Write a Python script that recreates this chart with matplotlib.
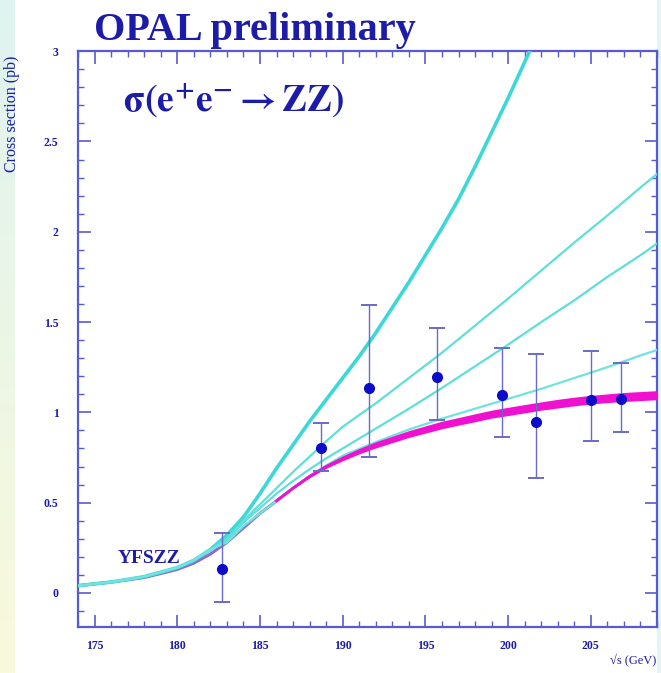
import numpy as np
import matplotlib
matplotlib.use("Agg")
import matplotlib.pyplot as plt
from matplotlib.ticker import MultipleLocator

plt.rcParams["mathtext.fontset"] = "stix"

ecm = [182.7, 188.7, 191.6, 195.7, 199.6, 201.7, 205.0, 206.8]
xsec = [0.13, 0.80, 1.135, 1.195, 1.095, 0.945, 1.07, 1.075]
err_up = [0.20, 0.14, 0.46, 0.27, 0.26, 0.38, 0.27, 0.20]
err_dn = [0.18, 0.125, 0.385, 0.24, 0.23, 0.31, 0.23, 0.185]

# YFSZZ standard model prediction
sm_e = [174, 176, 178, 180, 181, 182, 183, 184, 185, 186, 187, 188, 189, 190,
        191, 192, 193, 194, 195, 196, 197, 198, 199, 200, 201, 202, 203, 204,
        205, 206, 207, 208, 209]
sm_xs = [0.04, 0.06, 0.085, 0.13, 0.165, 0.215, 0.28, 0.36, 0.44, 0.51, 0.58,
         0.645, 0.70, 0.745, 0.785, 0.82, 0.85, 0.88, 0.905, 0.93, 0.95, 0.97,
         0.99, 1.005, 1.02, 1.035, 1.048, 1.06, 1.07, 1.078, 1.085, 1.09, 1.095]
# half width of the magenta theory band
sm_band = [0, 0, 0, 0, 0, 0, 0, 0, 0, 0, 0.002, 0.006, 0.010, 0.013, 0.015,
           0.017, 0.018, 0.019, 0.020, 0.021, 0.021, 0.022, 0.022, 0.023, 0.023,
           0.023, 0.024, 0.024, 0.024, 0.024, 0.025, 0.025, 0.025]

# anomalous coupling curves
low_e = [174, 176, 178, 180, 181, 182]
low_xs = [0.04, 0.06, 0.09, 0.14, 0.18, 0.24]

a_e = low_e + [183, 184, 185, 186, 187, 188, 189, 190, 191, 192, 193, 194, 195,
               196, 197, 198, 199, 200, 201, 202]
a_xs = low_xs + [0.32, 0.42, 0.55, 0.69, 0.82, 0.95, 1.07, 1.19, 1.31, 1.44,
                 1.58, 1.72, 1.87, 2.02, 2.18, 2.36, 2.55, 2.74, 2.94, 3.14]

b_e = low_e + [183, 184, 185, 186, 187, 188, 189, 190, 192, 194, 196, 198, 200,
               202, 204, 206, 208, 209]
b_xs = low_xs + [0.30, 0.40, 0.49, 0.58, 0.67, 0.755, 0.84, 0.92, 1.05, 1.19,
                 1.33, 1.48, 1.63, 1.785, 1.94, 2.09, 2.245, 2.32]

c_e = low_e + [183, 184, 185, 186, 187, 188, 189, 190, 192, 194, 196, 198, 200,
               202, 204, 206, 208, 209]
c_xs = low_xs + [0.29, 0.39, 0.47, 0.55, 0.62, 0.685, 0.745, 0.80, 0.91, 1.02,
                 1.135, 1.255, 1.375, 1.50, 1.62, 1.75, 1.87, 1.935]

d_e = low_e + [183, 184, 185, 186, 187, 188, 189, 190, 192, 194, 196, 198, 200,
               202, 204, 206, 208, 209]
d_xs = low_xs + [0.28, 0.37, 0.44, 0.51, 0.58, 0.645, 0.705, 0.76, 0.835, 0.905,
                 0.965, 1.02, 1.075, 1.13, 1.19, 1.25, 1.315, 1.345]

navy = "#1c1ca8"
frame = "#5a5ad0"
serif = ["Liberation Serif", "DejaVu Serif"]

fig = plt.figure(figsize=(6.61, 6.73), dpi=100)
fig.patch.set_facecolor("white")

# pale gradient strip on the left edge
strip = fig.add_axes([0, 0, 0.022, 1])
grad = np.linspace(0, 1, 256).reshape(-1, 1)
strip.imshow(grad, aspect="auto", cmap=matplotlib.colors.LinearSegmentedColormap.from_list(
    "bg", ["#dff3f0", "#f9f9dc"]), extent=[0, 1, 0, 1], origin="upper")
strip.axis("off")
rstrip = fig.add_axes([0.994, 0, 0.006, 1])
rstrip.set_facecolor("#e2f4f4")
rstrip.set_xticks([])
rstrip.set_yticks([])
for s in rstrip.spines.values():
    s.set_visible(False)

ax = fig.add_axes([0.118, 0.068, 0.876, 0.856])
ax.set_xlim(174, 209)
ax.set_ylim(-0.19, 3.0)

ax.plot(sm_e, sm_xs, color="#8a6ad8", lw=2.2, zorder=2)
ax.plot(a_e, a_xs, color="#3cd8d8", lw=2.6, zorder=3)
ax.plot(b_e, b_xs, color="#5ee0d8", lw=1.6, zorder=3)
ax.plot(c_e, c_xs, color="#5ee0d8", lw=1.6, zorder=3)
ax.plot(d_e, d_xs, color="#6ee4dc", lw=1.6, zorder=3)
# magenta theory band
lo = [v - w for v, w in zip(sm_xs, sm_band)]
hi = [v + w for v, w in zip(sm_xs, sm_band)]
ax.fill_between(sm_e[10:], lo[10:], hi[10:], color="#f010d0", lw=0, zorder=4)
ax.plot(sm_e[9:], sm_xs[9:], color="#f010d0", lw=2.0, zorder=4)

ax.errorbar(ecm, xsec, yerr=[err_dn, err_up], fmt="o", color="#0c0cc8", ms=7,
            ecolor="#6a6ac8", elinewidth=1.0, capsize=6, capthick=1.4, zorder=5)

for s in ax.spines.values():
    s.set_color(frame)
    s.set_linewidth(1.6)
ax.xaxis.set_major_locator(MultipleLocator(5))
ax.xaxis.set_minor_locator(MultipleLocator(1))
ax.yaxis.set_major_locator(MultipleLocator(0.5))
ax.yaxis.set_minor_locator(MultipleLocator(0.1))
ax.tick_params(which="both", direction="in", top=True, right=True, color=frame,
               labelcolor=navy)
ax.tick_params(which="major", length=9, width=1.2)
ax.tick_params(which="minor", length=4, width=1.0)
ax.tick_params(axis="x", pad=9)
ax.tick_params(axis="y", pad=14)
ax.set_yticks([0, 0.5, 1, 1.5, 2, 2.5, 3])
ax.set_yticklabels(["0", "0.5", "1", "1.5", "2", "2.5", "3"])
for lab in ax.get_xticklabels() + ax.get_yticklabels():
    lab.set_fontfamily(serif)
    lab.set_fontweight("bold")
    lab.set_fontsize(8.5)

fig.text(0.142, 0.955, "OPAL preliminary", fontsize=29, fontweight="bold",
         family=serif, color=navy, ha="left", va="center")
ax.text(0.078, 0.915, r"$\mathbf{\sigma(e^{+}e^{-}\rightarrow ZZ)}$", transform=ax.transAxes,
        fontsize=27, color=navy, ha="left", va="center")
ax.text(176.4, 0.19, "YFSZZ", fontsize=14, fontweight="bold", family=serif,
        color=navy, ha="left", va="center")

fig.text(0.018, 0.918, "Cross section (pb)", rotation=90, fontsize=11.5,
         family=serif, color=navy, ha="center", va="top")
fig.text(0.993, 0.018, "\u221as (GeV)", fontsize=9, family=serif,
         color=navy, ha="right", va="center")

fig.savefig("out.png", dpi=100)
